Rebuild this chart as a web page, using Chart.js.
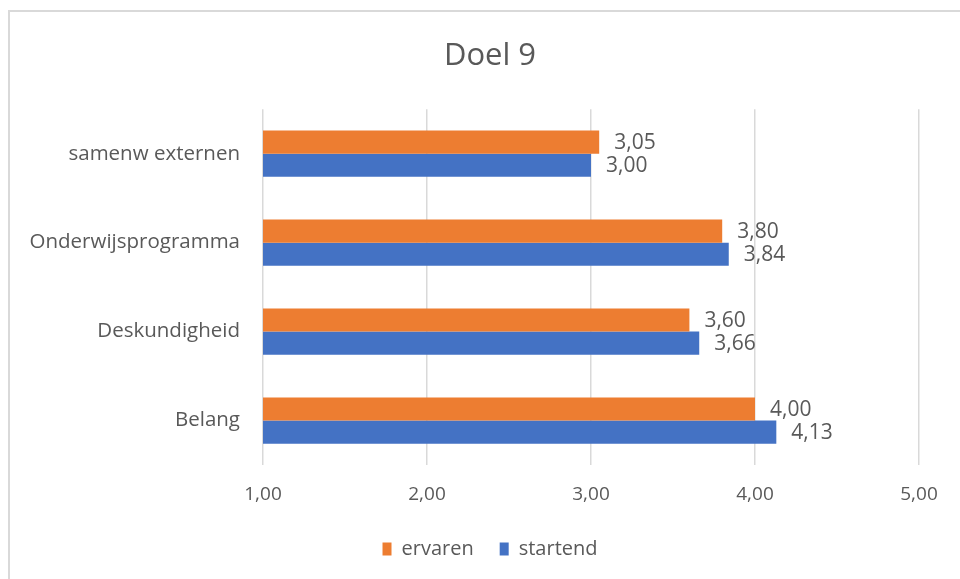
<!DOCTYPE html>
<html>
<head>
<meta charset="utf-8">
<script src="https://cdn.jsdelivr.net/npm/chart.js"></script>
<style>
  html, body { margin: 0; padding: 0; background: #fff; }
  #wrap { position: relative; width: 960px; height: 579px; }
</style>
</head>
<body>
<div id="wrap"><canvas id="chart" width="960" height="579"></canvas></div>
<script>
const categories = ["samenw externen", "Onderwijsprogramma", "Deskundigheid", "Belang"];
const ervaren = [3.05, 3.80, 3.60, 4.00];
const startend = [3.00, 3.84, 3.66, 4.13];
const xTicks = [1, 2, 3, 4, 5];

const TEXT = "#595959";
const FONT = "'Open Sans', sans-serif";

// comma decimals like the Dutch Excel original
const fmt = (v) => v.toFixed(2).replace(".", ",");

// outer frame of the chart area (cropped at right/bottom)
const framePlugin = {
  id: "frame",
  beforeDraw(chart) {
    const ctx = chart.ctx;
    ctx.save();
    ctx.strokeStyle = "#d9d9d9";
    ctx.lineWidth = 2;
    ctx.strokeRect(9, 11, 1000, 1000);
    ctx.restore();
  },
  // the Excel frame is wider than the crop, so title & legend sit right of canvas centre
  afterLayout(chart) {
    if (chart.titleBlock) chart.titleBlock.left = 61;
    if (chart.legend) chart.legend.left = 61;
  },
};

// value labels to the right of each bar
const valueLabels = {
  id: "valueLabels",
  afterDatasetsDraw(chart) {
    const ctx = chart.ctx;
    ctx.save();
    ctx.fillStyle = TEXT;
    ctx.font = "21px " + FONT;
    ctx.textBaseline = "middle";
    ctx.textAlign = "left";
    chart.data.datasets.forEach((ds, i) => {
      chart.getDatasetMeta(i).data.forEach((bar, j) => {
        ctx.fillText(fmt(ds.data[j]), bar.x + 15, bar.y + 1);
      });
    });
    ctx.restore();
  },
};

new Chart(document.getElementById("chart"), {
  type: "bar",
  data: {
    labels: categories,
    datasets: [
      { label: "ervaren", data: ervaren, backgroundColor: "#ED7D31" },
      { label: "startend", data: startend, backgroundColor: "#4472C4" },
    ],
  },
  plugins: [framePlugin, valueLabels],
  options: {
    indexAxis: "y",
    responsive: false,
    animation: false,
    categoryPercentage: 0.52,
    barPercentage: 1,
    layout: { padding: { left: 0, right: 41, top: 0, bottom: 10 } },
    scales: {
      x: {
        min: 1,
        max: 5,
        afterBuildTicks: (scale) => { scale.ticks = xTicks.map((v) => ({ value: v })); },
        afterFit: (scale) => { scale.height = 48; },
        grid: { color: "#d9d9d9", lineWidth: 1.5, drawTicks: false },
        border: { display: false },
        ticks: {
          color: TEXT,
          font: { family: FONT, size: 19 },
          padding: 18,
          callback: (v) => fmt(v),
        },
      },
      y: {
        afterFit: (scale) => { scale.width = 263; },
        grid: { display: false, drawTicks: false },
        border: { display: false },
        ticks: { color: TEXT, font: { family: FONT, size: 20.5 }, padding: 23 },
      },
    },
    plugins: {
      title: {
        display: true,
        text: "Doel 9",
        color: TEXT,
        font: { family: FONT, size: 31, weight: "normal" },
        padding: { top: 38, bottom: 34 },
      },
      legend: {
        position: "bottom",
        labels: {
          color: TEXT,
          font: { family: FONT, size: 20 },
          boxWidth: 9,
          boxHeight: 13,
          padding: 26,
        },
      },
      tooltip: { enabled: false },
    },
  },
});
</script>
</body>
</html>
